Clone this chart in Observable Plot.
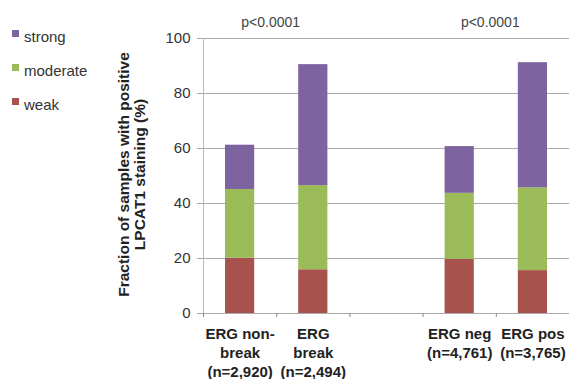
<!DOCTYPE html>
<html>
<head>
<meta charset="utf-8">
<script src="https://cdn.jsdelivr.net/npm/d3@7"></script>
<script src="https://cdn.jsdelivr.net/npm/@observablehq/plot@0.6"></script>
<style>
  html, body { margin: 0; padding: 0; background: #fff; }
  #wrap { position: relative; width: 569px; height: 379px; font-family: "Liberation Sans", Arial, sans-serif; }
  #legend { position: absolute; left: 12px; top: 26px; color: #333; font-size: 15px; }
  .item { display: flex; align-items: center; height: 20px; margin-bottom: 14px; }
  .sw { width: 7px; height: 7px; margin-right: 5px; margin-top: -6px; }
</style>
</head>
<body>
<div id="wrap"><div id="legend"></div></div>
<script>
// Data
const categories = ["ERG non-\nbreak\n(n=2,920)", "ERG\nbreak\n(n=2,494)", "", "ERG neg\n(n=4,761)", "ERG pos\n(n=3,765)"];
const weak     = [20.1, 15.9, null, 19.7, 15.6];
const moderate = [25.0, 30.6, null, 24.0, 30.1];
const strong   = [16.1, 44.0, null, 17.0, 45.5];
const levels = ["weak", "moderate", "strong"];
const colors = ["#A8524E", "#9BBB59", "#7D63A0"];
const pLabels = ["p<0.0001", "p<0.0001"];
const pPositions = [1, 4];
const yTicks = [0, 20, 40, 60, 80, 100];
const yLabel = "Fraction of samples with positive\nLPCAT1 staining (%)";

const series = {weak, moderate, strong};
const rows = [];
categories.forEach((c, i) => {
  let base = 0;
  levels.forEach(l => {
    const v = series[l][i];
    if (v == null) return;
    rows.push({i, level: l, y1: base, y2: base + v});
    base += v;
  });
});

const font = "Liberation Sans, Arial, sans-serif";
const chart = Plot.plot({
  width: 569,
  height: 379,
  marginLeft: 203,
  marginRight: 0,
  marginTop: 38,
  marginBottom: 66,
  style: {fontFamily: font, fontSize: "15px", color: "#333", background: "#fff"},
  x: {domain: [0, 5], axis: null},
  y: {domain: [0, 100], axis: null},
  color: {domain: levels, range: colors},
  marks: [
    Plot.gridY(yTicks, {stroke: "#aaa", strokeOpacity: 1}),
    Plot.ruleX([0], {stroke: "#bbb"}),
    Plot.ruleY([0], {stroke: "#aaa"}),
    Plot.axisY({ticks: yTicks, tickSize: 6, tickPadding: 7, stroke: "#aaa", fill: "#333", fontSize: 15, label: null}),
    Plot.axisX({ticks: [0, 1, 2, 3, 4, 5], tickSize: 4, tickFormat: () => "", stroke: "#888", label: null}),
    Plot.rectY(rows, {x1: d => d.i, x2: d => d.i + 1, y1: "y1", y2: "y2", fill: "level", insetLeft: 22, insetRight: 22}),
    Plot.text(categories.map((c, i) => ({c, i})), {x: d => d.i + 0.5, text: "c", frameAnchor: "bottom", lineAnchor: "top", dy: 12, fontWeight: "bold", fontSize: 15, lineHeight: 1.27, fill: "#222"}),
    Plot.text(pLabels.map((t, k) => ({t, x: pPositions[k]})), {x: "x", text: "t", frameAnchor: "top", lineAnchor: "bottom", dy: -12, dx: -6, fontSize: 14, fill: "#444"}),
    Plot.text([yLabel], {frameAnchor: "left", textAnchor: "middle", rotate: -90, dx: -71.5, dy: -1.5, fontWeight: "bold", fontSize: 15.5, lineHeight: 1.0, fill: "#222"})
  ]
});
document.getElementById("wrap").appendChild(chart);

const legend = document.getElementById("legend");
[["strong", colors[2]], ["moderate", colors[1]], ["weak", colors[0]]].forEach(([l, c]) => {
  const d = document.createElement("div");
  d.className = "item";
  d.innerHTML = `<span class="sw" style="background:${c}"></span><span>${l}</span>`;
  legend.appendChild(d);
});
</script>
</body>
</html>
